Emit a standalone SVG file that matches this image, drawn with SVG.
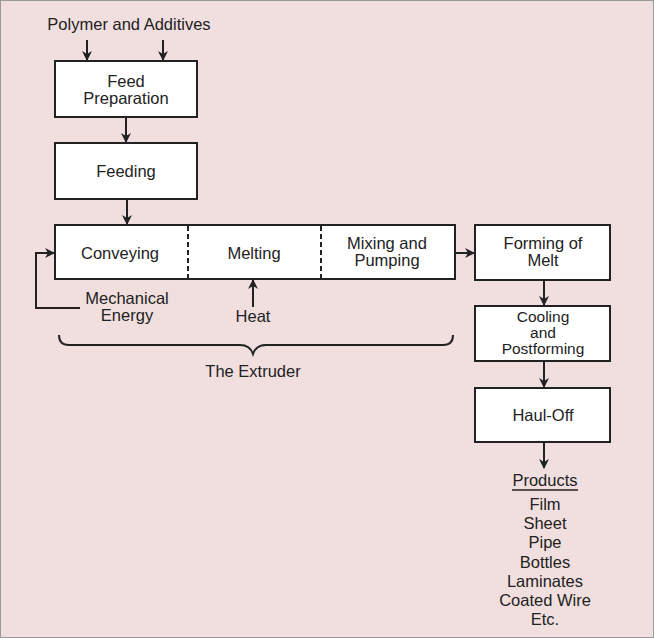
<svg xmlns="http://www.w3.org/2000/svg" width="654" height="638" viewBox="0 0 654 638">
<defs>
<marker id="ah" viewBox="0 0 10 10" refX="9" refY="5" markerWidth="5" markerHeight="5" orient="auto" markerUnits="strokeWidth">
<path d="M0,0 L10,5 L0,10 L3,5 Z" fill="#222"/>
</marker>
<style>
.box{fill:#fff;stroke:#222;stroke-width:2}
.t{font-family:"Liberation Sans",Arial,sans-serif;font-size:16.5px;fill:#222;text-anchor:middle}
.s{font-size:15.5px}
.c{fill:none;stroke:#222;stroke-width:2}
.a{fill:none;stroke:#222;stroke-width:2;marker-end:url(#ah)}
</style>
</defs>
<rect x="0.5" y="0.5" width="653" height="637" fill="#f1dfdf" stroke="#9a9a9a" stroke-width="1"/>
<text class="t" x="129" y="30">Polymer and Additives</text>
<g id="feedprep">
<rect class="box" x="55" y="61" width="142" height="56"/>
<text class="t" x="126" y="87">Feed</text>
<text class="t" x="126" y="104">Preparation</text>
</g>
<g id="feeding">
<rect class="box" x="55" y="143" width="142" height="56"/>
<text class="t" x="126" y="177">Feeding</text>
</g>
<g id="extruder">
<rect class="box" x="55" y="225" width="400" height="54"/>
<line x1="188" y1="226" x2="188" y2="278" stroke="#222" stroke-width="2" stroke-dasharray="5,3"/>
<line x1="321" y1="226" x2="321" y2="278" stroke="#222" stroke-width="2" stroke-dasharray="5,3"/>
<text class="t" x="120" y="259">Conveying</text>
<text class="t" x="254" y="259">Melting</text>
<text class="t" x="387" y="249">Mixing and</text>
<text class="t" x="387" y="266">Pumping</text>
</g>
<g id="mech">
<text class="t" x="127" y="304">Mechanical</text>
<text class="t" x="127" y="321">Energy</text>
</g>
<g id="heat">
<text class="t" x="253" y="322">Heat</text>
</g>
<g id="brace">
<path class="c" d="M59,335 Q59,345 69,345 L240,345 Q250,345 253,354 Q256,345 266,345 L443,345 Q453,345 453,335"/>
<text class="t" x="253" y="377">The Extruder</text>
</g>
<g id="forming">
<rect class="box" x="475" y="225" width="135" height="55"/>
<text class="t" x="543" y="249">Forming of</text>
<text class="t" x="543" y="266">Melt</text>
</g>
<g id="cooling">
<rect class="box" x="475" y="306" width="135" height="55"/>
<text class="t s" x="543" y="322">Cooling</text>
<text class="t s" x="543" y="338">and</text>
<text class="t s" x="543" y="354">Postforming</text>
</g>
<g id="hauloff">
<rect class="box" x="475" y="388" width="135" height="54"/>
<text class="t" x="543" y="421">Haul-Off</text>
</g>
<g id="products">
<text class="t" x="545" y="486">Products</text>
<line x1="512" y1="490" x2="578" y2="490" stroke="#222" stroke-width="1.5"/>
<text class="t" x="545" y="510">Film</text>
<text class="t" x="545" y="529">Sheet</text>
<text class="t" x="545" y="548">Pipe</text>
<text class="t" x="545" y="568">Bottles</text>
<text class="t" x="545" y="587">Laminates</text>
<text class="t" x="545" y="606">Coated Wire</text>
<text class="t" x="545" y="625">Etc.</text>
</g>
<g id="connectors">
<line class="a" x1="87" y1="40" x2="87" y2="60"/>
<line class="a" x1="163" y1="40" x2="163" y2="60"/>
<line class="a" x1="126" y1="117" x2="126" y2="142"/>
<line class="a" x1="127" y1="199" x2="127" y2="224"/>
<path class="a" d="M80,308 L36,308 L36,253 L54,253"/>
<line class="a" x1="253" y1="307" x2="253" y2="280"/>
<line class="a" x1="455" y1="253" x2="474" y2="253"/>
<line class="a" x1="544" y1="280" x2="544" y2="305"/>
<line class="a" x1="544" y1="361" x2="544" y2="387"/>
<line class="a" x1="544" y1="442" x2="544" y2="468"/>
</g>
</svg>
